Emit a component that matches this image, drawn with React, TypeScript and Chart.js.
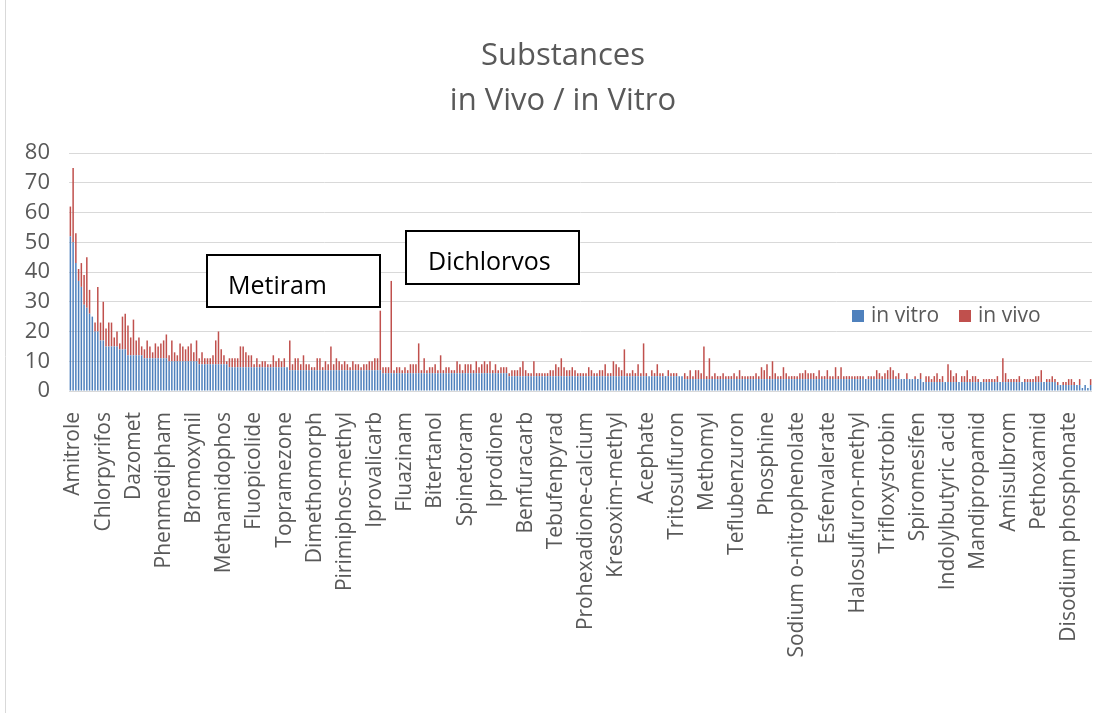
import React, { useEffect, useRef } from "react";
import { Chart, registerables } from "chart.js";

Chart.register(...registerables);

// Every 11th substance carries a visible axis label.
const labelledSubstances = [
  "Amitrole", "Chlorpyrifos", "Dazomet", "Phenmedipham", "Bromoxynil",
  "Methamidophos", "Fluopicolide", "Topramezone", "Dimethomorph",
  "Pirimiphos-methyl", "Iprovalicarb", "Fluazinam", "Bitertanol",
  "Spinetoram", "Iprodione", "Benfuracarb", "Tebufenpyrad",
  "Prohexadione-calcium", "Kresoxim-methyl", "Acephate", "Tritosulfuron",
  "Methomyl", "Teflubenzuron", "Phosphine", "Sodium o-nitrophenolate",
  "Esfenvalerate", "Halosulfuron-methyl", "Trifloxystrobin", "Spiromesifen",
  "Indolylbutyric acid", "Mandipropamid", "Amisulbrom", "Pethoxamid",
  "Disodium phosphonate",
];
const LABEL_STEP = 11;

// In vitro counts, one row per labelled group of 11 substances.
const inVitro = [
  52, 50, 43, 37, 35, 29, 28, 26, 25, 20, 20,
  17, 17, 15, 15, 15, 15, 15, 14, 14, 14, 12,
  12, 12, 12, 12, 12, 11, 11, 11, 11, 11, 11,
  11, 11, 11, 10, 10, 10, 10, 10, 10, 10, 10,
  10, 10, 10, 9, 9, 9, 9, 9, 9, 9, 9,
  9, 9, 9, 8, 8, 8, 8, 8, 8, 8, 8,
  8, 8, 8, 8, 8, 8, 8, 8, 8, 8, 8,
  8, 8, 8, 7, 7, 7, 7, 7, 7, 7, 7,
  7, 7, 7, 7, 7, 7, 7, 7, 7, 7, 7,
  7, 7, 7, 7, 7, 7, 7, 7, 7, 7, 7,
  7, 7, 7, 7, 6, 6, 6, 6, 6, 6, 6,
  6, 6, 6, 6, 6, 6, 6, 6, 6, 6, 6,
  6, 6, 6, 6, 6, 6, 6, 6, 6, 6, 6,
  6, 6, 6, 6, 6, 6, 6, 6, 6, 6, 6,
  6, 6, 6, 6, 6, 6, 5, 5, 5, 5, 5,
  5, 5, 5, 5, 5, 5, 5, 5, 5, 5, 5,
  5, 5, 5, 5, 5, 5, 5, 5, 5, 5, 5,
  5, 5, 5, 5, 5, 5, 5, 5, 5, 5, 5,
  5, 5, 5, 5, 5, 5, 5, 5, 5, 5, 5,
  5, 5, 5, 5, 5, 5, 5, 5, 5, 5, 5,
  5, 5, 5, 5, 4, 4, 4, 4, 4, 4, 4,
  4, 4, 4, 4, 4, 4, 4, 4, 4, 4, 4,
  4, 4, 4, 4, 4, 4, 4, 4, 4, 4, 4,
  4, 4, 4, 4, 4, 4, 4, 4, 4, 4, 4,
  4, 4, 4, 4, 4, 4, 4, 4, 4, 4, 4,
  4, 4, 4, 4, 4, 4, 4, 4, 4, 4, 4,
  4, 4, 4, 4, 4, 4, 4, 4, 4, 4, 4,
  4, 4, 4, 4, 4, 4, 4, 4, 4, 4, 4,
  4, 4, 4, 3, 3, 3, 3, 3, 3, 3, 3,
  3, 3, 3, 3, 3, 3, 3, 3, 3, 3, 3,
  3, 3, 3, 3, 3, 3, 3, 3, 3, 3, 3,
  3, 3, 3, 3, 3, 3, 3, 3, 3, 3, 3,
  3, 3, 3, 3, 3, 3, 3, 3, 2, 2, 2,
  2, 2, 2, 2, 2, 2, 1, 2, 1, 2,
];

// In vivo counts, stacked on top of the in vitro counts.
const inVivo = [
  10, 25, 10, 4, 8, 10, 17, 8, 0, 3, 15,
  6, 13, 6, 8, 8, 3, 5, 2, 11, 12, 10,
  6, 12, 5, 6, 3, 3, 6, 4, 2, 5, 4,
  5, 6, 8, 2, 7, 3, 2, 6, 5, 4, 5,
  6, 3, 7, 2, 4, 2, 2, 2, 3, 8, 11,
  5, 3, 1, 3, 3, 3, 3, 7, 7, 5, 4,
  4, 1, 3, 1, 2, 2, 1, 1, 4, 2, 3,
  2, 3, 0, 10, 2, 4, 4, 2, 5, 2, 2,
  1, 1, 4, 4, 1, 3, 2, 8, 2, 4, 3,
  2, 3, 2, 1, 3, 2, 2, 1, 2, 2, 3,
  3, 4, 4, 20, 2, 2, 2, 31, 1, 2, 2,
  1, 2, 1, 3, 3, 3, 10, 1, 5, 1, 2,
  2, 3, 1, 6, 1, 2, 2, 1, 1, 4, 3,
  1, 3, 3, 3, 1, 4, 2, 3, 4, 3, 4,
  1, 3, 1, 2, 2, 2, 1, 2, 2, 2, 3,
  5, 2, 1, 1, 5, 1, 1, 1, 1, 1, 2,
  2, 4, 3, 6, 3, 2, 2, 3, 2, 1, 1,
  1, 1, 3, 2, 1, 1, 2, 2, 4, 1, 1,
  5, 4, 3, 2, 9, 1, 1, 2, 1, 4, 1,
  11, 1, 0, 2, 1, 4, 1, 1, 0, 2, 1,
  1, 1, 0, 0, 2, 1, 3, 1, 3, 3, 2,
  11, 1, 7, 1, 2, 1, 1, 2, 1, 1, 1,
  2, 1, 3, 1, 1, 1, 1, 1, 2, 1, 4,
  3, 5, 1, 6, 2, 1, 1, 4, 2, 1, 1,
  1, 1, 2, 2, 3, 2, 2, 2, 1, 3, 1,
  1, 3, 1, 1, 4, 1, 4, 1, 1, 1, 1,
  1, 1, 1, 1, 0, 1, 1, 1, 3, 2, 1,
  2, 3, 4, 3, 1, 2, 0, 0, 2, 0, 0,
  1, 0, 2, 0, 2, 2, 1, 2, 3, 1, 2,
  0, 6, 4, 2, 3, 0, 2, 2, 4, 1, 2,
  2, 1, 0, 1, 1, 1, 1, 1, 2, 0, 8,
  3, 1, 1, 1, 1, 2, 0, 1, 1, 1, 1,
  2, 2, 4, 0, 1, 1, 2, 1, 1, 0, 1,
  1, 2, 2, 1, 0, 2, 0, 0, 0, 2,
];

const yMin = 0;
const yMax = 80;
const yStep = 10;

const seriesNames = ["in vitro", "in vivo"];
const seriesColors = ["#4F81BD", "#C0504D"];
const titleLines = ["Substances", "in Vivo / in Vitro"];
const calloutTexts = ["Metiram", "Dichlorvos"];

const FONT = "'Open Sans', 'DejaVu Sans', sans-serif";
const GREY_TEXT = "#595959";
const GRID = "#d9d9d9";

// Placement of the free-floating chart furniture (canvas pixels).
const titleLayout = { x: 563, baselines: [65, 110], size: 31 };
const legendLayout = { y: 316, swatch: 12, items: [{ x: 852, textX: 871 }, { x: 959, textX: 978 }] };
const calloutLayout = [
  { box: [207, 255, 173, 52], textX: 228, baseline: 294 },
  { box: [406, 231, 173, 53], textX: 428, baseline: 270 },
];

const furniture = {
  id: "furniture",
  afterDraw(chart: Chart) {
    const ctx = chart.ctx;
    ctx.save();

    // thin frame line on the left edge
    ctx.strokeStyle = GRID;
    ctx.lineWidth = 1;
    ctx.beginPath();
    ctx.moveTo(5.5, 0);
    ctx.lineTo(5.5, chart.height);
    ctx.stroke();

    // title
    ctx.fillStyle = GREY_TEXT;
    ctx.textAlign = "center";
    ctx.textBaseline = "alphabetic";
    ctx.font = `${titleLayout.size}px ${FONT}`;
    titleLines.forEach((line, i) => ctx.fillText(line, titleLayout.x, titleLayout.baselines[i]));

    // legend
    ctx.textAlign = "left";
    ctx.textBaseline = "middle";
    ctx.font = `21px ${FONT}`;
    legendLayout.items.forEach((it, i) => {
      ctx.fillStyle = seriesColors[i];
      ctx.fillRect(it.x, legendLayout.y - legendLayout.swatch / 2, legendLayout.swatch, legendLayout.swatch);
      ctx.fillStyle = GREY_TEXT;
      ctx.fillText(seriesNames[i], it.textX, legendLayout.y);
    });

    // callout boxes
    ctx.textBaseline = "alphabetic";
    ctx.font = `25px ${FONT}`;
    calloutLayout.forEach((c, i) => {
      const [bx, by, bw, bh] = c.box;
      ctx.fillStyle = "#ffffff";
      ctx.fillRect(bx, by, bw, bh);
      ctx.strokeStyle = "#000000";
      ctx.lineWidth = 2;
      ctx.strokeRect(bx, by, bw, bh);
      ctx.fillStyle = "#000000";
      ctx.fillText(calloutTexts[i], c.textX, c.baseline);
    });

    ctx.restore();
  },
};

export default function App() {
  const canvasRef = useRef<HTMLCanvasElement>(null);

  useEffect(() => {
    const canvas = canvasRef.current;
    if (!canvas) return;
    const categories = inVitro.map((_, i) =>
      i % LABEL_STEP === 0 ? labelledSubstances[i / LABEL_STEP] ?? "" : ""
    );

    const chart = new Chart(canvas, {
      type: "bar",
      data: {
        labels: categories,
        datasets: [
          {
            label: seriesNames[0],
            data: inVitro,
            backgroundColor: seriesColors[0],
            barPercentage: 0.55,
            categoryPercentage: 1,
            borderWidth: 0,
          },
          {
            label: seriesNames[1],
            data: inVivo,
            backgroundColor: seriesColors[1],
            barPercentage: 0.55,
            categoryPercentage: 1,
            borderWidth: 0,
          },
        ],
      },
      options: {
        responsive: false,
        animation: false,
        layout: { padding: { top: 153, right: 15, bottom: 0, left: 0 } },
        plugins: {
          legend: { display: false },
          title: { display: false },
          tooltip: { enabled: false },
        },
        scales: {
          x: {
            stacked: true,
            grid: { display: false },
            border: { display: false },
            ticks: {
              autoSkip: false,
              minRotation: 90,
              maxRotation: 90,
              padding: 13,
              labelOffset: 3,
              color: GREY_TEXT,
              font: { family: FONT, size: 21 },
            },
            afterFit: (scale: any) => {
              scale.height = 322;
              scale.paddingLeft = 0;
              scale.paddingRight = 0;
            },
          },
          y: {
            stacked: true,
            min: yMin,
            max: yMax,
            ticks: {
              stepSize: yStep,
              padding: 19,
              color: GREY_TEXT,
              font: { family: FONT, size: 22 },
            },
            grid: { color: GRID, lineWidth: 1, drawTicks: false },
            border: { display: false },
            afterFit: (scale: any) => {
              scale.width = 69;
            },
          },
        },
      },
      plugins: [furniture],
    });

    return () => chart.destroy();
  }, []);

  return (
    <div style={{ position: "absolute", left: 0, top: 0, width: 1107, height: 713, background: "#ffffff" }}>
      <canvas ref={canvasRef} width={1107} height={713} style={{ display: "block" }} />
    </div>
  );
}
